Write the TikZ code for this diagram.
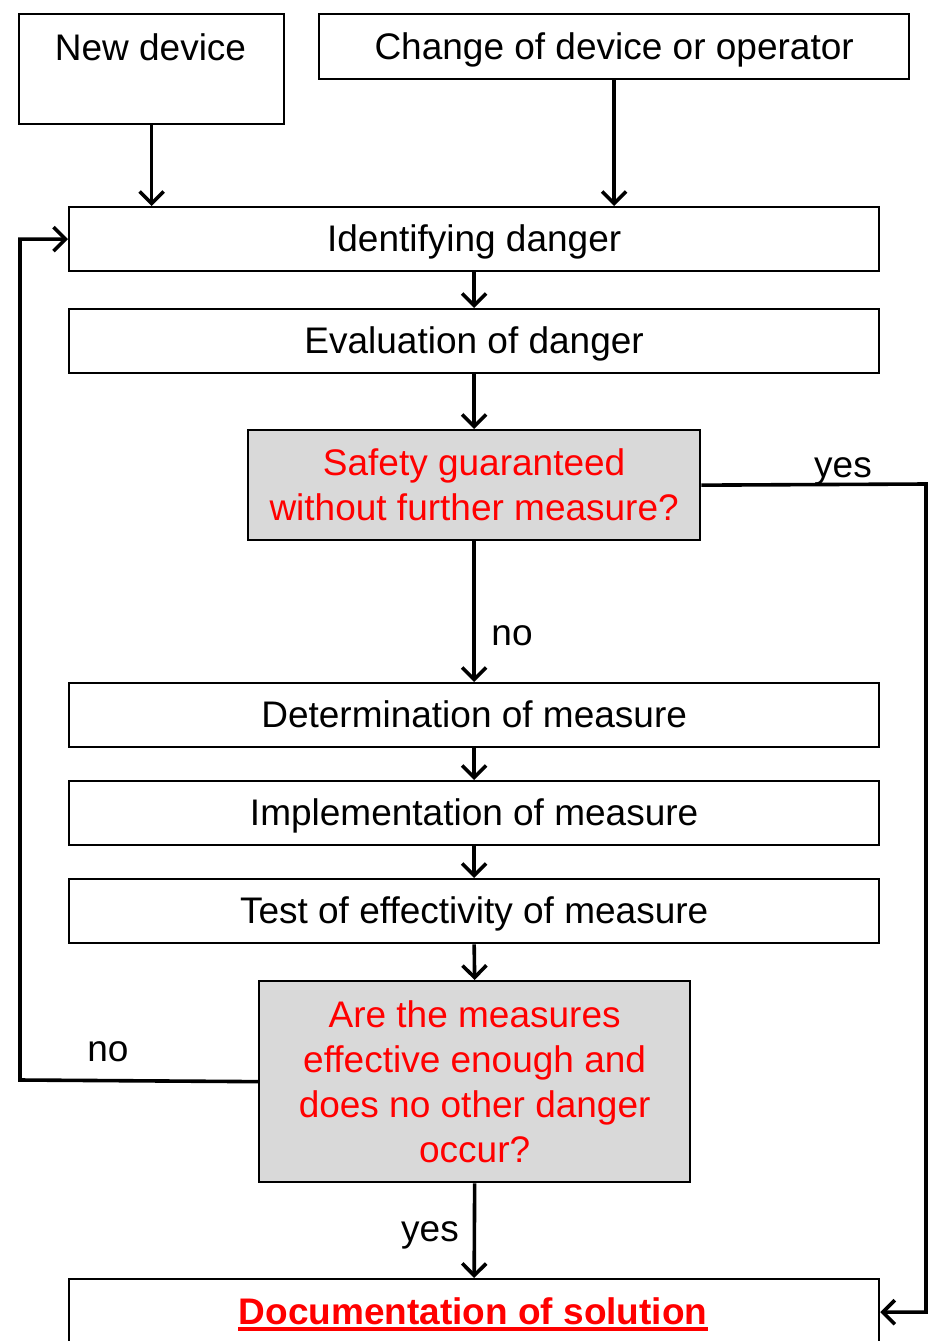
\documentclass[tikz,border=0pt]{standalone}
\usepackage{fontspec}
\setmainfont{Liberation Sans}
\usetikzlibrary{arrows.meta}
\definecolor{qgrey}{HTML}{D9D9D9}
\begin{document}
\begin{tikzpicture}[x=1pt,y=-1pt,
  box/.style={draw, line width=2.3pt, inner sep=0pt, anchor=north west},
  txt/.style={font=\fontsize{37}{44}\selectfont, align=center},
  one/.style={text height=28pt, text depth=3pt},
  wide/.style={box, txt, one, minimum width=810pt, minimum height=64pt},
  qbox/.style={box, fill=qgrey, text=red, font=\fontsize{37}{45}\selectfont, align=center},
  conn/.style={line width=3.6pt, -{Straight Barb[length=12pt,width=24pt]}},
  lab/.style={font=\fontsize{37}{44}\selectfont, inner sep=0pt, anchor=base}]
\useasboundingbox (0,0) rectangle (932,1341);
\clip (0,0) rectangle (932,1341);

% top boxes
\node[box, minimum width=265pt, minimum height=110pt] (nd) at (18,13) {};
\node[txt, inner sep=0pt, anchor=base] (ndtext) at (150.5,60) {New device};
\node[box, txt, one, minimum width=590pt, minimum height=65pt] (chg) at (318,13) {Change of device or operator};

% main chain
\node[wide] (ident) at (68,206) {Identifying danger};
\node[wide] (eval) at (68,308) {Evaluation of danger};
\node[qbox, minimum width=452pt, minimum height=110pt] (safe) at (247,429) {Safety guaranteed\\without further measure?};
\node[wide] (det) at (68,682) {Determination of measure};
\node[wide] (impl) at (68,780) {Implementation of measure};
\node[wide] (test) at (68,878) {Test of effectivity of measure};
\node[qbox, minimum width=431pt, minimum height=201pt] (are) at (258,980) {Are the measures\\effective enough and\\does no other danger\\occur?};
\node[box, minimum width=810pt, minimum height=66pt] (doc) at (68,1278) {};
\node[lab, text=red, font=\fontsize{37}{44}\selectfont\bfseries] (doctext) at (473,1324) {Documentation of solution};
\draw[red, line width=3.5pt] ([yshift=-5pt]doctext.base west) -- ([yshift=-5pt]doctext.base east);

% connectors
\draw[conn] (nd.south) -- (nd.south |- ident.north);
\draw[conn] (chg.south) -- (chg.south |- ident.north);
\draw[conn] (ident.south) -- (eval.north);
\draw[conn] (eval.south) -- (safe.north);
\draw[conn] (safe.south) -- (det.north);
\draw[conn] (det.south) -- (impl.north);
\draw[conn] (impl.south) -- (test.north);
\draw[conn] (test.south) -- (are.north);
\draw[conn] (are.south) -- (doc.north);
\coordinate (yr) at (926,484);
\draw[conn] (safe.east) -- (yr) |- (doc.east);
\coordinate (nl) at (20,1080);
\draw[conn] (are.west) -- (nl) |- (ident.west);

% labels
\node[lab] (yes1) at (843,477) {yes};
\node[lab] (no1) at (512,645) {no};
\node[lab] (no2) at (108,1061) {no};
\node[lab] (yes2) at (430,1241) {yes};
\end{tikzpicture}
\end{document}
